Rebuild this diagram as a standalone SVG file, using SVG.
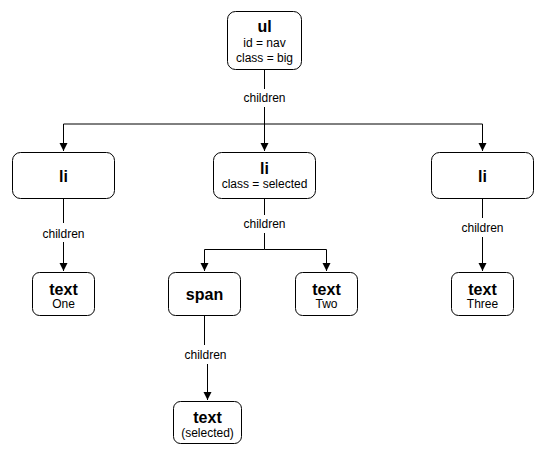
<svg xmlns="http://www.w3.org/2000/svg" width="545" height="456" viewBox="0 0 545 456">
<style>
.box{fill:#fff;stroke:#000;stroke-width:1}
.t{font-family:"Liberation Sans",Arial,sans-serif;font-size:16px;font-weight:bold;text-anchor:middle;fill:#000}
.s{font-family:"Liberation Sans",Arial,sans-serif;font-size:12px;text-anchor:middle;fill:#000}
.e{fill:none;stroke:#000;stroke-width:1}
.lbl{font-family:"Liberation Sans",Arial,sans-serif;font-size:12px;text-anchor:middle;fill:#000}
</style>
<defs>
<marker id="arr" viewBox="0 0 8 10" refX="8" refY="5" markerWidth="8" markerHeight="10" markerUnits="userSpaceOnUse" orient="auto">
<path d="M0,1 L8,5 L0,9 Z" fill="#000"/>
</marker>
</defs>
<rect width="545" height="456" fill="#fff"/>
<g id="connectors">
<path class="e" d="M264.5,70 V89"/>
<path class="e" d="M264.5,107 V124 H63.5 V151" marker-end="url(#arr)"/>
<path class="e" d="M264.5,124 V151" marker-end="url(#arr)"/>
<path class="e" d="M264.5,124 H482.5 V151" marker-end="url(#arr)"/>
<path class="e" d="M63.5,198.5 V223"/>
<path class="e" d="M63.5,242 V271" marker-end="url(#arr)"/>
<path class="e" d="M264.5,198.5 V215"/>
<path class="e" d="M264.5,233 V249.5 H204.5 V271" marker-end="url(#arr)"/>
<path class="e" d="M264.5,249.5 H326.5 V271" marker-end="url(#arr)"/>
<path class="e" d="M482.5,198.5 V218"/>
<path class="e" d="M482.5,237 V271" marker-end="url(#arr)"/>
<path class="e" d="M204.5,315.5 V345"/>
<path class="e" d="M207.5,364 V400" marker-end="url(#arr)"/>
<text class="lbl" x="264.5" y="102">children</text>
<text class="lbl" x="63.5" y="237.5">children</text>
<text class="lbl" x="264.5" y="228">children</text>
<text class="lbl" x="482.5" y="232">children</text>
<text class="lbl" x="205.5" y="358.5">children</text>
</g>
<g id="node-ul">
<rect class="box" x="227.5" y="11.5" width="74" height="58" rx="8"/>
<text class="t" x="264.5" y="32">ul</text>
<text class="s" x="264.5" y="47">id = nav</text>
<text class="s" x="264.5" y="61.5">class = big</text>
</g>
<g id="node-li1">
<rect class="box" x="12.5" y="152.5" width="102" height="46" rx="8"/>
<text class="t" x="63.5" y="181.5">li</text>
</g>
<g id="node-li2">
<rect class="box" x="213.5" y="152.5" width="102" height="46" rx="8"/>
<text class="t" x="264.5" y="174">li</text>
<text class="s" x="264.5" y="188">class = selected</text>
</g>
<g id="node-li3">
<rect class="box" x="431.5" y="152.5" width="102" height="46" rx="8"/>
<text class="t" x="482.5" y="181.5">li</text>
</g>
<g id="node-text-one">
<rect class="box" x="32.5" y="272.5" width="62" height="43" rx="7"/>
<text class="t" x="63.5" y="294.5">text</text>
<text class="s" x="63.5" y="308">One</text>
</g>
<g id="node-span">
<rect class="box" x="168.5" y="272.5" width="72" height="43" rx="7"/>
<text class="t" x="204.5" y="299.5">span</text>
</g>
<g id="node-text-two">
<rect class="box" x="295.5" y="272.5" width="62" height="43" rx="7"/>
<text class="t" x="326.5" y="294.5">text</text>
<text class="s" x="326.5" y="308">Two</text>
</g>
<g id="node-text-three">
<rect class="box" x="451.5" y="272.5" width="62" height="43" rx="7"/>
<text class="t" x="482.5" y="294.5">text</text>
<text class="s" x="482.5" y="308">Three</text>
</g>
<g id="node-text-selected">
<rect class="box" x="173.5" y="401.5" width="68" height="42" rx="7"/>
<text class="t" x="207.5" y="423">text</text>
<text class="s" x="207.5" y="437">(selected)</text>
</g>
</svg>
